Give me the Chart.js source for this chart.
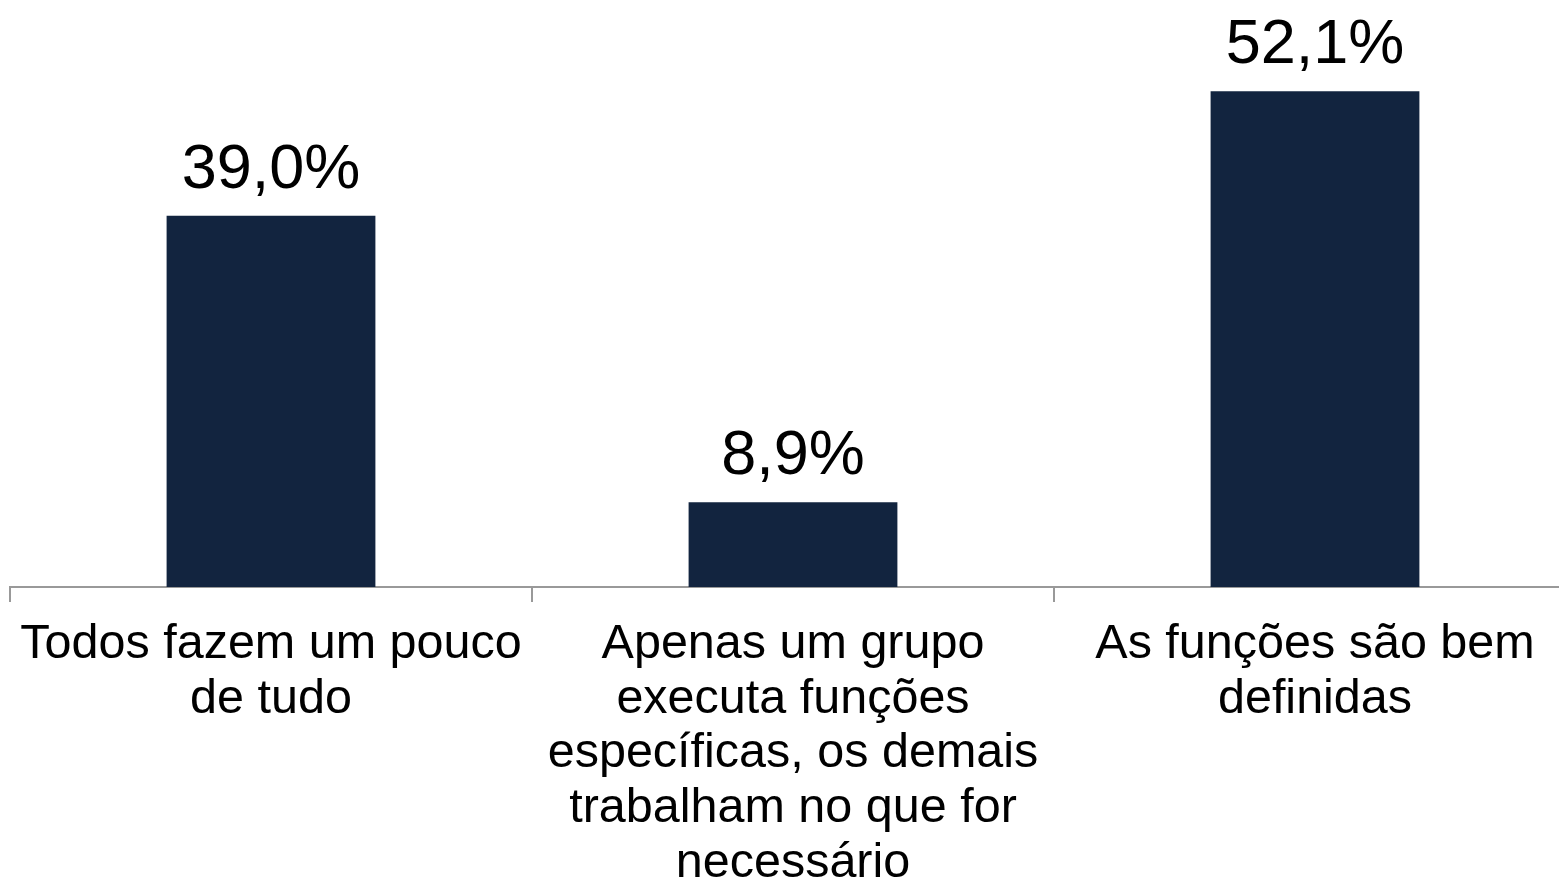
<!DOCTYPE html>
<html>
<head>
<meta charset="utf-8">
<script src="https://cdn.jsdelivr.net/npm/chart.js@4/dist/chart.umd.min.js"></script>
<style>
  html, body { margin: 0; padding: 0; background: #fff; overflow: hidden; }
  #wrap { position: relative; width: 1580px; height: 906px; }
</style>
</head>
<body>
<div id="wrap"><canvas id="graphCanvas"></canvas></div>
<script>
const categories = [
    ['Todos fazem um pouco', 'de tudo'],
    ['Apenas um grupo', 'executa funções', 'específicas, os demais', 'trabalham no que for', 'necessário'],
    ['As funções são bem', 'definidas']
];
const values = [39.0, 8.9, 52.1];

const fontFamily = '"Liberation Sans", Arial, sans-serif';
const barColor = '#12243f';

// value labels above each bar, using the bar elements positioned by Chart.js
const valueLabels = {
    id: 'valueLabels',
    afterDatasetsDraw(chart) {
        const ctx = chart.ctx;
        const meta = chart.getDatasetMeta(0);
        ctx.save();
        ctx.font = '63px ' + fontFamily;
        ctx.fillStyle = '#000';
        ctx.textAlign = 'center';
        ctx.textBaseline = 'alphabetic';
        meta.data.forEach((bar, i) => {
            const text = values[i].toFixed(1).replace('.', ',') + '%';
            ctx.fillText(text, bar.x, bar.y - 28);
        });
        ctx.restore();
    }
};

const ctx = document.getElementById('graphCanvas').getContext('2d');
const chart = new Chart(ctx, {
    type: 'bar',
    data: {
        labels: categories,
        datasets: [{
            data: values,
            backgroundColor: barColor,
            borderWidth: 0,
            categoryPercentage: 1,
            barPercentage: 0.4
        }]
    },
    options: {
        responsive: true,
        maintainAspectRatio: false,
        animation: false,
        layout: { padding: { left: 10, right: 4, top: 16, bottom: 0 } },
        scales: {
            x: {
                border: { display: true, color: '#999999', width: 2 },
                grid: {
                    display: true,
                    drawOnChartArea: false,
                    drawTicks: true,
                    tickLength: 15,
                    color: '#999999',
                    lineWidth: 2
                },
                ticks: {
                    color: '#000',
                    padding: 15,
                    maxRotation: 0,
                    autoSkip: false,
                    font: { family: fontFamily, size: 48.5, lineHeight: 1.13 }
                }
            },
            y: {
                display: false,
                min: 0,
                max: 60
            }
        },
        plugins: {
            legend: { display: false },
            tooltip: { enabled: false }
        }
    },
    plugins: [valueLabels]
});
</script>
</body>
</html>
